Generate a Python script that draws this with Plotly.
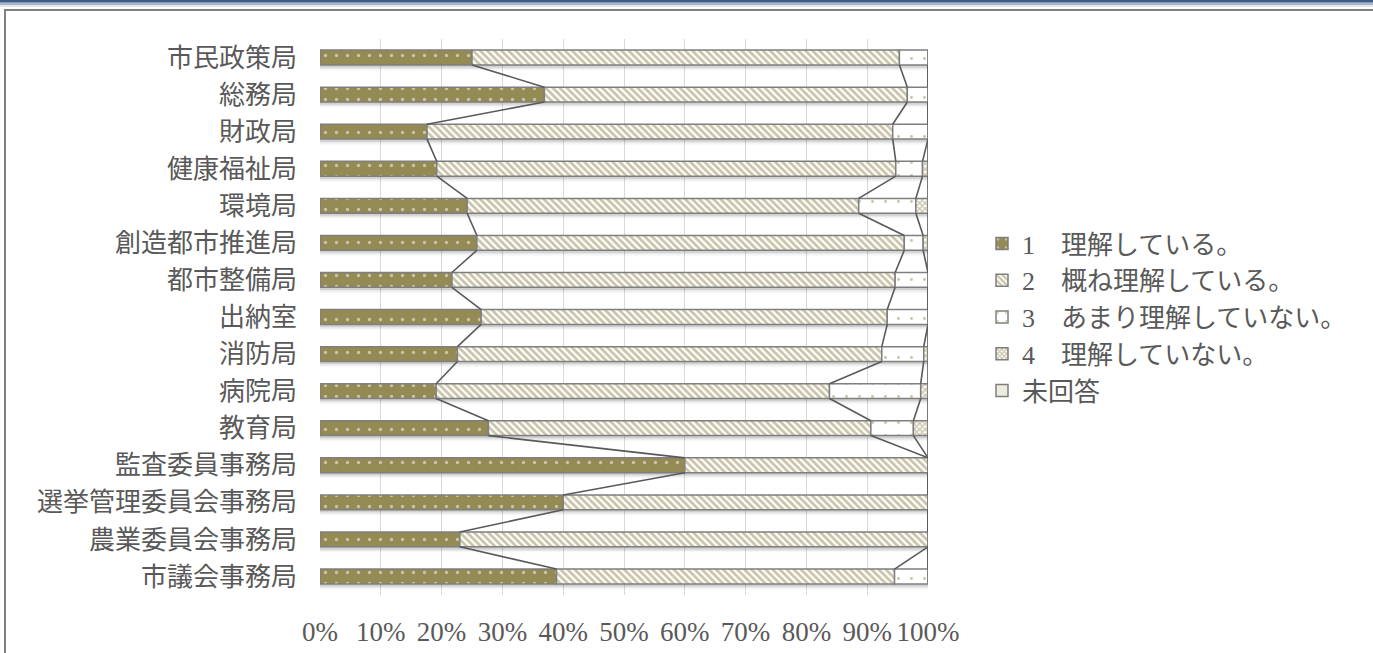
import plotly.graph_objects as go

# Survey results by bureau (percent of respondents)
categories = [
    "市民政策局", "総務局", "財政局", "健康福祉局", "環境局",
    "創造都市推進局", "都市整備局", "出納室", "消防局", "病院局",
    "教育局", "監査委員事務局", "選挙管理委員会事務局", "農業委員会事務局", "市議会事務局",
]
understand = [25.0, 36.9, 17.6, 19.2, 24.2, 25.8, 21.7, 26.5, 22.6, 19.1, 27.7, 60.0, 40.0, 23.0, 38.9]
mostly = [70.3, 59.7, 76.6, 75.5, 64.4, 70.3, 72.9, 66.8, 69.8, 64.7, 62.9, 40.0, 60.0, 77.0, 55.6]
not_much = [4.7, 3.4, 5.8, 4.4, 9.4, 3.1, 5.4, 6.7, 6.9, 15.0, 7.0, 0.0, 0.0, 0.0, 5.5]
not_at_all = [0.0, 0.0, 0.0, 0.9, 2.0, 0.8, 0.0, 0.0, 0.7, 1.2, 2.4, 0.0, 0.0, 0.0, 0.0]
no_answer = [0.0] * 15

series_names = [
    "1　理解している。",
    "2　概ね理解している。",
    "3　あまり理解していない。",
    "4　理解していない。",
    "未回答",
]
series_values = [understand, mostly, not_much, not_at_all, no_answer]

x_ticks = list(range(0, 101, 10))
x_tick_labels = [f"{v}%" for v in x_ticks]

OLIVE = "#948A54"
TAN = "#EEECE1"
EDGE = "#7F7F7F"
TEXT = "#595959"
patterns = [
    dict(shape=".", bgcolor=OLIVE, fgcolor="white", size=11, solidity=0.07),
    dict(shape="\\", bgcolor="white", fgcolor=OLIVE, size=5, solidity=0.55),
    dict(shape=".", bgcolor="white", fgcolor=OLIVE, size=13, solidity=0.04),
    dict(shape="x", bgcolor="white", fgcolor=OLIVE, size=4, solidity=0.6),
    dict(shape="", bgcolor=TAN, fgcolor=TAN),
]
fills = [OLIVE, "white", "white", "white", TAN]

W, H = 1373, 653
L, R, T, B = 320, 445, 39, 58
BAR_W = 0.4
rows = list(range(len(categories)))


def px_x(px):
    return (px - L) / (W - L - R)


def px_y(py):
    return (H - B - py) / (H - T - B)


fig = go.Figure()

# soft drop shadow beneath each bar
totals = [sum(v[i] for v in series_values) for i in rows]
for off, alpha in [(0.07, 0.10), (0.11, 0.06), (0.15, 0.03)]:
    fig.add_trace(go.Bar(
        y=[r + off for r in rows], x=totals, base=[0] * len(rows), orientation="h",
        width=BAR_W, marker=dict(color=f"rgba(0,0,0,{alpha})", line=dict(width=0)),
        showlegend=False, hoverinfo="skip",
    ))

# stacked segments with explicit bases
cum = [0.0] * len(rows)
boundaries = []
for k, (name, vals) in enumerate(zip(series_names, series_values)):
    fig.add_trace(go.Bar(
        y=rows, x=vals, base=list(cum), orientation="h", name=name,
        width=BAR_W, legendgroup=f"g{k}",
        marker=dict(color=fills[k], pattern=patterns[k], line=dict(color=EDGE, width=1.5)),
    ))
    cum = [c + v for c, v in zip(cum, vals)]
    if k < 4:
        boundaries.append(list(cum))

# series lines joining segment ends of neighbouring bars
for b in boundaries:
    xs, ys = [], []
    for i in rows[:-1]:
        xs += [b[i], b[i + 1], None]
        ys += [i + BAR_W / 2, i + 1 - BAR_W / 2, None]
    fig.add_trace(go.Scatter(
        x=xs, y=ys, mode="lines", line=dict(color="#595959", width=1.6),
        showlegend=False, hoverinfo="skip", cliponaxis=False,
    ))

shapes = [
    # outer frame
    dict(type="rect", xref="paper", yref="paper",
         x0=px_x(5), x1=px_x(W + 20), y0=px_y(H + 20), y1=px_y(10),
         line=dict(color="#808080", width=2), fillcolor="rgba(0,0,0,0)", layer="below"),
    # header band
    dict(type="rect", xref="paper", yref="paper",
         x0=px_x(0), x1=px_x(W), y0=px_y(7), y1=px_y(5),
         line=dict(width=0), fillcolor="#E4E7EB", layer="below"),
    dict(type="rect", xref="paper", yref="paper",
         x0=px_x(0), x1=px_x(W), y0=px_y(5), y1=px_y(2.5),
         line=dict(width=0), fillcolor="#A9B4C4", layer="below"),
    dict(type="rect", xref="paper", yref="paper",
         x0=px_x(0), x1=px_x(W), y0=px_y(2.5), y1=px_y(0),
         line=dict(width=0), fillcolor="#3D5C8E", layer="below"),
]

fig.update_layout(
    width=W, height=H,
    margin=dict(l=L, r=R, t=T, b=B, autoexpand=False),
    paper_bgcolor="white", plot_bgcolor="white",
    barmode="overlay",
    shapes=shapes,
    font=dict(family="Liberation Serif, Noto Sans CJK JP", color=TEXT),
    legend=dict(
        x=px_x(982), y=px_y(220), xanchor="left", yanchor="top",
        font=dict(size=26, family="Liberation Serif, Noto Sans CJK JP", color=TEXT),
        traceorder="grouped", tracegroupgap=0,
        itemwidth=30, bgcolor="rgba(0,0,0,0)",
    ),
    xaxis=dict(
        range=[0, 100], tickmode="array", tickvals=x_ticks, ticktext=x_tick_labels,
        showgrid=True, gridcolor="#D9D9D9", gridwidth=1, zeroline=False,
        showline=False, ticks="", ticklabelstandoff=18, automargin=False,
        tickfont=dict(size=27, family="Liberation Serif", color=TEXT),
        fixedrange=True,
    ),
    yaxis=dict(
        range=[len(categories) - 0.5, -0.5], tickvals=rows, ticktext=categories,
        showgrid=False, zeroline=False, showline=False, ticks="",
        ticklabelstandoff=22, automargin=False,
        tickfont=dict(size=26, family="Noto Sans CJK JP", color=TEXT),
        fixedrange=True,
    ),
)

fig.write_html("out.html")
